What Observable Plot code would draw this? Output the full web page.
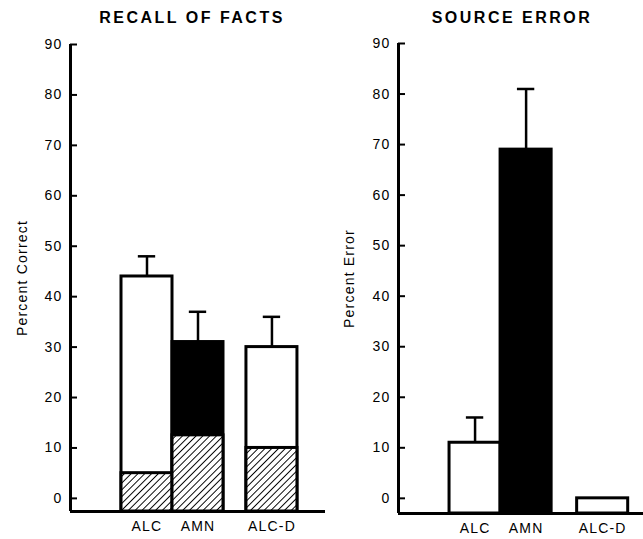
<!DOCTYPE html>
<html><head><meta charset="utf-8">
<script src="https://cdn.jsdelivr.net/npm/d3@7"></script>
<script src="https://cdn.jsdelivr.net/npm/@observablehq/plot@0.6"></script>
<style>
body{margin:0;background:#fff;}
#wrap{display:flex;width:643px;height:539px;overflow:hidden;}
.panel{position:relative;}
.title{position:absolute;top:9px;line-height:18px;font:bold 16px "Liberation Sans",Arial,sans-serif;letter-spacing:2.5px;white-space:nowrap;transform:translateX(-50%);color:#000;}
</style></head>
<body>
<svg width="0" height="0" style="position:absolute"><defs>
<pattern id="hatch" patternUnits="userSpaceOnUse" width="4.8" height="4.8" patternTransform="rotate(45)">
<rect width="4.8" height="4.8" fill="white"/><line x1="0" y1="0" x2="0" y2="4.8" stroke="black" stroke-width="1.9"/>
</pattern></defs></svg>
<div id="wrap"></div>
<script>
// ---- data ----
const groups = ["ALC", "AMN", "ALC-D"];
const yTicks = [0, 10, 20, 30, 40, 50, 60, 70, 80, 90];
// Recall of facts (percent correct)
const recallTotal = [44, 31, 30];
const recallHatched = [5, 12.5, 10];
const recallSEM = [4, 6, 6];
// Source error (percent error)
const sourceError = [11, 69, 0];
const sourceSEM = [5, 12, null];

// ---- drawing ----
function panel(cfg) {
  const {width, marginLeft, marginRight, marginTop, marginBottom, xDomain, slots, yMin,
         label, labelOffset, values, hatched, sem, fills} = cfg;
  const slot = g => slots[groups.indexOf(g)];
  const rows = groups.map((g, i) => ({g, v: values[i], h: hatched ? hatched[i] : null, e: sem[i], fill: fills[i]}));
  const hw = 0.5, cap = 0.17;
  return Plot.plot({
    width, height: 539, marginLeft, marginRight, marginTop, marginBottom,
    x: {domain: xDomain, axis: null},
    y: {domain: [yMin, 90], axis: null},
    color: {type: "identity"},
    style: {fontFamily: '"Liberation Sans", Arial, sans-serif', fontSize: "14px", letterSpacing: "1.2px", color: "black", background: "white"},
    marks: [
      Plot.rectY(rows, {x1: d => slot(d.g) - hw, x2: d => slot(d.g) + hw, y1: yMin, y2: "v", fill: "fill", stroke: "black", strokeWidth: 3}),
      Plot.rectY(rows.filter(d => d.h != null), {x1: d => slot(d.g) - hw, x2: d => slot(d.g) + hw, y1: yMin, y2: "h", fill: "url(#hatch)", stroke: "black", strokeWidth: 3}),
      Plot.ruleX(rows.filter(d => d.e != null), {x: d => slot(d.g), y1: "v", y2: d => d.v + d.e, stroke: "black", strokeWidth: 2.5}),
      Plot.ruleY(rows.filter(d => d.e != null), {y: d => d.v + d.e, x1: d => slot(d.g) - cap, x2: d => slot(d.g) + cap, stroke: "black", strokeWidth: 2.5}),
      Plot.ruleX([xDomain[0]], {y1: yMin, y2: 90, stroke: "black", strokeWidth: 3}),
      Plot.ruleY([yMin], {stroke: "black", strokeWidth: 3}),
      Plot.axisY({ticks: yTicks, tickSize: -7, tickPadding: 15, strokeWidth: 2, label, labelAnchor: "center", labelOffset, labelArrow: "none"}),
      Plot.axisX({ticks: slots, tickFormat: v => groups[slots.indexOf(v)], tickSize: 0, tickPadding: 10, label: null})
    ]
  });
}

function addPanel(cfg, title, titleX) {
  const div = document.createElement("div");
  div.className = "panel";
  div.style.width = cfg.width + "px";
  div.appendChild(panel(cfg));
  const t = document.createElement("div");
  t.className = "title";
  t.textContent = title;
  t.style.left = titleX + "px";
  div.appendChild(t);
  document.getElementById("wrap").appendChild(div);
}

addPanel({
  width: 330, marginLeft: 70, marginRight: 5, marginTop: 44, marginBottom: 28,
  xDomain: [-1.5, 3.5], slots: [0, 1, 2.45], yMin: -2.6,
  label: "Percent Correct", labelOffset: 53,
  values: recallTotal, hatched: recallHatched, sem: recallSEM, fills: ["white", "black", "white"]
}, "RECALL OF FACTS", 192);

addPanel({
  width: 313, marginLeft: 68, marginRight: 0, marginTop: 43, marginBottom: 26,
  xDomain: [-1.5, 3.3], slots: [0, 1, 2.5], yMin: -3,
  label: "Percent Error", labelOffset: 54,
  values: sourceError, hatched: null, sem: sourceSEM, fills: ["white", "black", "white"]
}, "SOURCE ERROR", 182);
</script>
</body></html>
